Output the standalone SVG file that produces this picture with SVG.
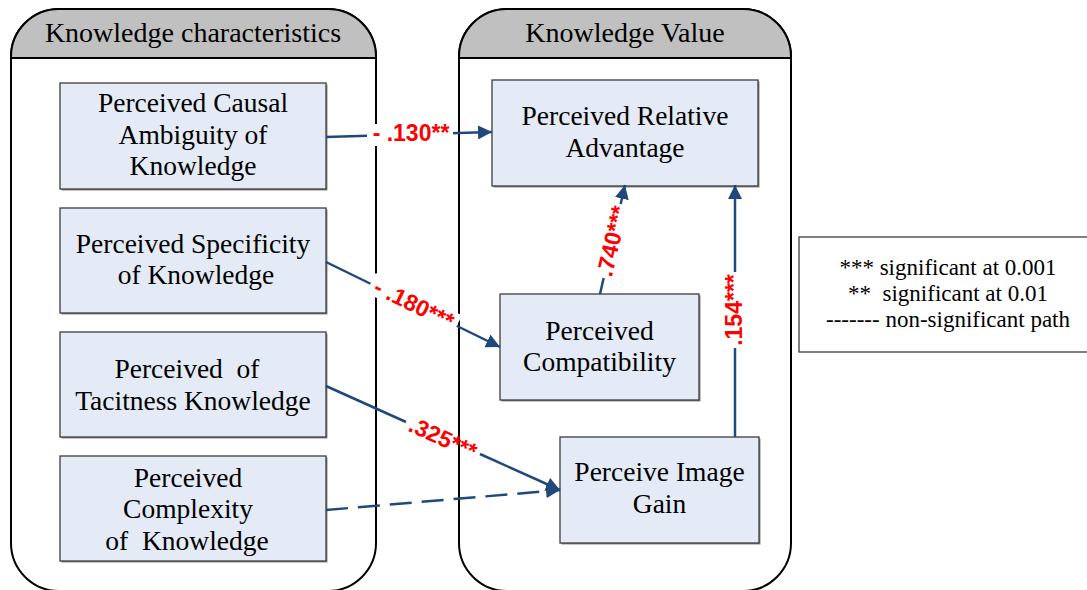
<svg xmlns="http://www.w3.org/2000/svg" width="1087" height="590" viewBox="0 0 1087 590">
<style>
.cont{fill:#ffffff;stroke:#000000;stroke-width:2}
.head{fill:#c0c0c0;stroke:#000000;stroke-width:2}
.box{fill:#e4ebf6;stroke:#3c3c3c;stroke-width:1.3}
.shadow{fill:#8a8a8a}
.t{font-family:"Liberation Serif","Times New Roman",serif;font-size:27.5px;fill:#000;text-anchor:middle}
.h{font-family:"Liberation Serif","Times New Roman",serif;font-size:28px;fill:#000;text-anchor:middle}
.lg{font-family:"Liberation Serif","Times New Roman",serif;font-size:23px;fill:#000;text-anchor:middle}
.c{fill:none;stroke:#1f497d;stroke-width:2.5}
.lbl{font-family:"Liberation Sans",Arial,sans-serif;font-size:23px;font-weight:bold;fill:#ff0000;text-anchor:middle}
.bg{fill:#ffffff}
</style>
<defs>
<marker id="arr" markerUnits="userSpaceOnUse" markerWidth="14" markerHeight="14" refX="14" refY="7" orient="auto">
<path d="M0,0 L14,7 L0,14 Z" fill="#1f497d"/>
</marker>
</defs>

<g id="container-characteristics">
<rect class="cont" x="11" y="9" width="365" height="582" rx="48" ry="48"/>
<path class="head" d="M11,58 L11,57 A48,48 0 0 1 59,9 L328,9 A48,48 0 0 1 376,57 L376,58 Z"/>
<text class="h" x="193" y="42">Knowledge characteristics</text>
</g>
<g id="container-value">
<rect class="cont" x="459" y="9" width="332" height="582" rx="48" ry="48"/>
<path class="head" d="M459,58 L459,57 A48,48 0 0 1 507,9 L743,9 A48,48 0 0 1 791,57 L791,58 Z"/>
<text class="h" x="625" y="42">Knowledge Value</text>
</g>

<g id="node-causal">
<rect class="shadow" x="61.5" y="84.5" width="266" height="106"/>
<rect class="box" x="60" y="83" width="266" height="106"/>
<text class="t" x="193" y="112">Perceived Causal</text>
<text class="t" x="193" y="144">Ambiguity of</text>
<text class="t" x="193" y="175">Knowledge</text>
</g>
<g id="node-specificity">
<rect class="shadow" x="61.5" y="209.5" width="266" height="105"/>
<rect class="box" x="60" y="208" width="266" height="105"/>
<text class="t" x="193" y="253">Perceived Specificity</text>
<text class="t" x="196" y="284">of Knowledge</text>
</g>
<g id="node-tacitness">
<rect class="shadow" x="61.5" y="333.5" width="266" height="105"/>
<rect class="box" x="60" y="332" width="266" height="105"/>
<text class="t" x="187" y="378" xml:space="preserve">Perceived  of</text>
<text class="t" x="193" y="410">Tacitness Knowledge</text>
</g>
<g id="node-complexity">
<rect class="shadow" x="61.5" y="457.5" width="266" height="105"/>
<rect class="box" x="60" y="456" width="266" height="105"/>
<text class="t" x="188" y="487">Perceived</text>
<text class="t" x="188" y="518">Complexity</text>
<text class="t" x="187" y="550" xml:space="preserve">of  Knowledge</text>
</g>
<g id="node-relative-advantage">
<rect class="shadow" x="493.5" y="81.5" width="266" height="106"/>
<rect class="box" x="492" y="80" width="266" height="106"/>
<text class="t" x="625" y="125">Perceived Relative</text>
<text class="t" x="625" y="157">Advantage</text>
</g>
<g id="node-compatibility">
<rect class="shadow" x="501.5" y="295.5" width="199" height="106"/>
<rect class="box" x="500" y="294" width="199" height="106"/>
<text class="t" x="599.5" y="340">Perceived</text>
<text class="t" x="599.5" y="371">Compatibility</text>
</g>
<g id="node-image-gain">
<rect class="shadow" x="561.5" y="438.5" width="199" height="106"/>
<rect class="box" x="560" y="437" width="199" height="106"/>
<text class="t" x="659.5" y="481">Perceive Image</text>
<text class="t" x="659.5" y="513">Gain</text>
</g>

<g id="legend">
<rect x="799" y="237" width="298" height="115" fill="#ffffff" stroke="#3c3c3c" stroke-width="1.3"/>
<text class="lg" x="948" y="275">*** significant at 0.001</text>
<text class="lg" x="948" y="301" xml:space="preserve">**  significant at 0.01</text>
<text class="lg" x="948" y="327">------- non-significant path</text>
</g>

<g id="connectors">
<line class="c" x1="326" y1="137" x2="492" y2="132" marker-end="url(#arr)"/>
<line class="c" x1="326" y1="262" x2="500" y2="347" marker-end="url(#arr)"/>
<line class="c" x1="600" y1="294" x2="625" y2="185" marker-end="url(#arr)"/>
<line class="c" x1="735" y1="437" x2="735" y2="185" marker-end="url(#arr)"/>
<line class="c" x1="326" y1="386" x2="406" y2="422"/>
<line class="c" x1="480" y1="454" x2="560" y2="490" marker-end="url(#arr)"/>
<line class="c" x1="326" y1="510" x2="560" y2="490" stroke-dasharray="22 10" marker-end="url(#arr)"/>

<rect class="bg" x="367" y="124" width="86" height="22"/>
<text class="lbl" x="411" y="141">- .130**</text>

<g transform="rotate(26.1 414 304)">
<rect class="bg" x="366" y="293" width="96" height="22"/>
<text class="lbl" x="414" y="312">- .180***</text>
</g>

<g transform="rotate(-77 612 241)">
<rect class="bg" x="574" y="230" width="76" height="22"/>
<text class="lbl" x="612" y="249">.740***</text>
</g>

<g transform="rotate(-90 734 310)">
<rect class="bg" x="696" y="299" width="76" height="22"/>
<text class="lbl" x="734" y="318">.154***</text>
</g>

<text class="lbl" x="443" y="446" transform="rotate(24.2 443 438)">.325***</text>
</g>
</svg>
